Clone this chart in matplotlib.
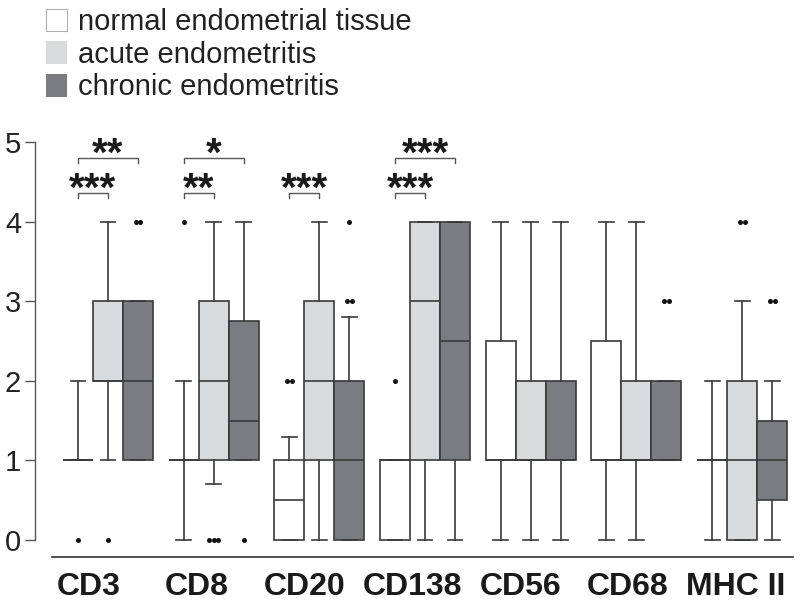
import numpy as np
import matplotlib
matplotlib.use("Agg")
import matplotlib.pyplot as plt
from matplotlib.patches import Patch

plt.rcParams['font.family'] = ['Liberation Sans', 'DejaVu Sans']

groups = ['CD3', 'CD8', 'CD20', 'CD138', 'CD56', 'CD68', 'MHC II']
series = ['normal endometrial tissue', 'acute endometritis', 'chronic endometritis']

# box statistics (score 0-5)
normal_lo = [1, 0, 0, 0, 0, 0, 0]
normal_q1 = [1, 1, 0, 0, 1, 1, 1]
normal_med = [1, 1, 0.5, 1, 1, 1, 1]
normal_q3 = [1, 1, 1, 1, 2.5, 2.5, 1]
normal_hi = [2, 2, 1.3, 1, 4, 4, 2]
normal_fliers = [[0], [4], [2, 2], [2], [], [], []]

acute_lo = [1, 0.7, 0, 0, 0, 0, 0]
acute_q1 = [2, 1, 1, 1, 1, 1, 0]
acute_med = [2, 2, 2, 3, 1, 1, 1]
acute_q3 = [3, 3, 3, 4, 2, 2, 2]
acute_hi = [4, 4, 4, 4, 4, 4, 3]
acute_fliers = [[0], [0, 0, 0], [], [], [], [], [4, 4]]

chronic_lo = [1, 1, 0, 0, 0, 1, 0]
chronic_q1 = [1, 1, 0, 1, 1, 1, 0.5]
chronic_med = [2, 1.5, 1, 2.5, 1, 1, 1]
chronic_q3 = [3, 2.75, 2, 4, 2, 2, 1.5]
chronic_hi = [3, 4, 2.8, 4, 4, 2, 2]
chronic_fliers = [[4, 4], [0], [3, 3, 4], [], [], [3, 3], [3, 3]]

# significance brackets: (group, series a, series b, label)
sig_group = [0, 0, 1, 1, 2, 3, 3]
sig_a = [0, 0, 0, 0, 0, 0, 0]
sig_b = [1, 2, 1, 2, 1, 1, 2]
sig_text = ['***', '**', '**', '*', '***', '***', '***']

colors = ['#ffffff', '#d9dadb', '#7b7c7f']
edge = '#3a3a3a'
bw = 0.284
offsets = [-bw, 0, bw]

all_stats = [
    (normal_lo, normal_q1, normal_med, normal_q3, normal_hi, normal_fliers),
    (acute_lo, acute_q1, acute_med, acute_q3, acute_hi, acute_fliers),
    (chronic_lo, chronic_q1, chronic_med, chronic_q3, chronic_hi, chronic_fliers),
]

fig = plt.figure(figsize=(8, 6.01), dpi=100)
ax = fig.add_axes([35 / 800, 1 - 557 / 601, 760 / 800, (557 - 138) / 601])

x = np.arange(len(groups))
for k, (lo, q1, med, q3, hi, fl) in enumerate(all_stats):
    stats = []
    for i in range(len(groups)):
        stats.append(dict(whislo=lo[i], q1=q1[i], med=med[i], q3=q3[i],
                          whishi=hi[i], fliers=[]))
    pos = x + offsets[k]
    ax.bxp(stats, positions=pos, widths=bw, capwidths=0.14, showfliers=False,
           patch_artist=True, manage_ticks=False,
           boxprops=dict(facecolor=colors[k], edgecolor=edge, linewidth=1.2),
           medianprops=dict(color=edge, linewidth=1.2),
           whiskerprops=dict(color=edge, linewidth=1.2),
           capprops=dict(color=edge, linewidth=1.2))
    # outliers, repeated values drawn side by side
    for i in range(len(groups)):
        vals = fl[i]
        for v in set(vals):
            n = vals.count(v)
            xs = pos[i] + (np.arange(n) - (n - 1) / 2) * 0.045
            ax.plot(xs, [v] * n, 'o', ms=3.6, color='#111111', mec='none')

# significance brackets
levels = {1: 4.365, 2: 4.805}
for g, a, b, t in zip(sig_group, sig_a, sig_b, sig_text):
    y = levels[b - a]
    x1 = g + offsets[a]
    x2 = g + offsets[b]
    ax.plot([x1, x1, x2, x2], [y - 0.065, y, y, y - 0.065], color='#555555', lw=1.0)
    ax.text((x1 + x2) / 2, y - 0.10, t, ha='center', va='baseline',
            fontsize=29, fontweight='bold', color='#1a1a1a')

ax.set_xlim(-0.69, 6.50)
ax.set_ylim(-0.2136, 5.05)
ax.set_yticks([0, 1, 2, 3, 4, 5])
ax.tick_params(axis='y', length=7, width=1, color='#555555', labelsize=21,
               labelcolor='#222222', pad=3)
ax.set_xticks([])
for s in ['top', 'right']:
    ax.spines[s].set_visible(False)
ax.spines['left'].set_bounds(0, 5)
ax.spines['left'].set_color('#555555')
ax.spines['left'].set_linewidth(1.0)
ax.spines['bottom'].set_bounds(-0.53, 6.48)
ax.spines['bottom'].set_color('#333333')
ax.spines['bottom'].set_linewidth(1.2)

label_x = x * 1.02 - 0.18
for lx, name in zip(label_x, groups):
    ax.text(lx, -0.40, name, ha='center', va='top', fontsize=23,
            fontweight='bold', color='#1a1a1a')

handles = [Patch(facecolor=colors[0], edgecolor='#b0b0b0', linewidth=0.8),
           Patch(facecolor=colors[1], edgecolor='none'),
           Patch(facecolor=colors[2], edgecolor='none')]
fig.legend(handles, series, loc='upper left', bbox_to_anchor=(46 / 800, 1 - 8 / 601),
           frameon=False, fontsize=21, handlelength=0.72, handleheight=0.82,
           handletextpad=0.38, labelspacing=0.16, borderpad=0, borderaxespad=0,
           labelcolor='#222222')

fig.savefig('out.png', dpi=100)
